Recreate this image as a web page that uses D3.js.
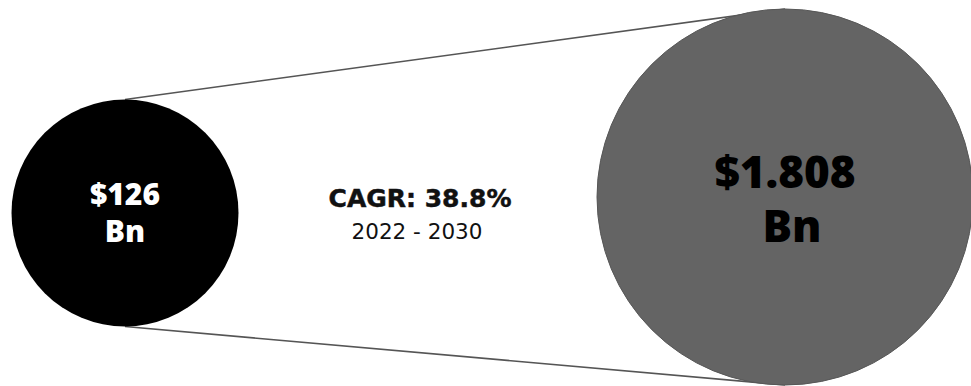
<!DOCTYPE html>
<html>
<head>
<meta charset="utf-8">
<script src="https://cdn.jsdelivr.net/npm/d3@7"></script>
<style>
  html, body { margin: 0; padding: 0; background: #fff; }
  svg { display: block; }
  text { font-family: "Open Sans", "Lato", sans-serif; }
  .note { font-family: "DejaVu Sans", "Open Sans", sans-serif; }
</style>
</head>
<body>
<svg id="chart" width="971" height="386"></svg>
<script>
// Market size at the start and end of the forecast window
const years = [2022, 2030];
const values = [126, 1808];
const valueLines = [["$126", "Bn"], ["$1.808", "Bn"]];
const fills = ["#000000", "#646464"];
const textColors = ["#ffffff", "#000000"];
const cagrLabel = "CAGR: 38.8%";
const periodLabel = "2022 - 2030";

const svg = d3.select("#chart");

// placement of each year's bubble
const x = d3.scaleOrdinal().domain(years).range([125, 785]);
const y = d3.scaleOrdinal().domain(years).range([213, 197]);
// bubble radius and label size grow with market value
const r = d3.scaleLinear().domain(d3.extent(values)).range([113.5, 188]);
const fontSize = d3.scaleLinear().domain(d3.extent(values)).range([30, 44]);

const data = years.map((yr, i) => ({
  year: yr, value: values[i], lines: valueLines[i], fill: fills[i], tc: textColors[i]
}));

// connector lines joining the tops and bottoms of the two bubbles
const a = data[0], b = data[1];
const connectors = [
  [[x(a.year), y(a.year) - r(a.value)], [x(b.year), y(b.year) - r(b.value)]],
  [[x(a.year), y(a.year) + r(a.value)], [x(b.year), y(b.year) + r(b.value)]]
];
svg.selectAll("line.conn").data(connectors).join("line")
  .attr("class", "conn")
  .attr("x1", d => d[0][0]).attr("y1", d => d[0][1])
  .attr("x2", d => d[1][0]).attr("y2", d => d[1][1])
  .attr("stroke", "#555").attr("stroke-width", 1.6);

// bubbles
svg.selectAll("circle.bubble").data(data).join("circle")
  .attr("class", "bubble")
  .attr("cx", d => x(d.year)).attr("cy", d => y(d.year))
  .attr("r", d => r(d.value))
  .attr("fill", d => d.fill)
  .attr("stroke", (d, i) => i === 0 ? "none" : "#575757")
  .attr("stroke-width", 1);

// value labels inside bubbles, one text per line
svg.selectAll("g.lbl").data(data).join("g").attr("class", "lbl")
  .each(function(d, i) {
    const fs = fontSize(d.value);
    const lh = fs * 1.24;
    const top = y(d.year) - lh / 2 + fs * 0.36 + (i === 0 ? 0 : 2);
    d3.select(this).selectAll("text").data(d.lines).join("text")
      .attr("x", x(d.year))
      .attr("dx", (ln, k) => (i === 1 && k === 1) ? 7 : 0)
      .attr("y", (ln, k) => top + k * lh)
      .attr("text-anchor", "middle")
      .attr("font-weight", 800)
      .attr("font-size", fs)
      .attr("fill", d.tc)
      .text(ln => ln);
  });

// growth annotation between the bubbles
svg.append("text")
  .attr("class", "note")
  .attr("x", 420).attr("y", 207)
  .attr("text-anchor", "middle")
  .attr("font-size", 25).attr("font-weight", 700)
  .attr("fill", "#111")
  .attr("stroke", "#111").attr("stroke-width", 0.5)
  .text(cagrLabel);
svg.append("text")
  .attr("class", "note")
  .attr("x", 417).attr("y", 239)
  .attr("text-anchor", "middle")
  .attr("font-size", 21.5).attr("font-weight", 400)
  .attr("fill", "#111")
  .text(periodLabel);
</script>
</body>
</html>
